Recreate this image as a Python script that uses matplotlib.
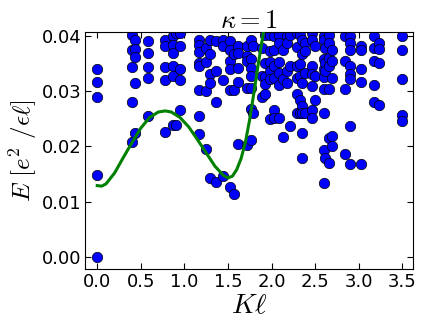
import matplotlib
matplotlib.use("Agg")
import matplotlib.pyplot as plt
import numpy as np

plt.rcParams['mathtext.fontset'] = 'cm'

# spectrum: momentum columns and the energies found at each one
k_cols = [0.0, 0.397, 0.436, 0.585, 0.776, 0.867, 0.906, 0.951, 1.169, 1.249,
          1.295, 1.357, 1.448, 1.517, 1.563, 1.616, 1.723, 1.762, 1.785, 1.888,
          1.926, 1.983, 2.029, 2.090, 2.136, 2.182, 2.212, 2.289, 2.327, 2.346,
          2.384, 2.461, 2.499, 2.595, 2.614, 2.663, 2.698, 2.843, 2.900, 3.023,
          3.179, 3.237, 3.493]
e_cols = [
    [0.0339, 0.0317, 0.0290, 0.0148, 0.0000],
    [0.0402, 0.0375, 0.0344, 0.0281, 0.0208],
    [0.0392, 0.0376, 0.0361, 0.0315, 0.0224],
    [0.0391, 0.0369, 0.0343, 0.0323, 0.0254],
    [0.0392, 0.0381, 0.0343, 0.0320, 0.0225],
    [0.0400, 0.0384, 0.0369, 0.0345, 0.0328, 0.0239],
    [0.0405, 0.0239],
    [0.0405, 0.0381, 0.0340, 0.0320, 0.0266],
    [0.0393, 0.0384, 0.0370, 0.0351, 0.0345, 0.0302, 0.0254, 0.0222],
    [0.0378, 0.0352, 0.0300, 0.0196],
    [0.0393, 0.0366, 0.0331, 0.0314, 0.0143],
    [0.0391, 0.0336, 0.0280, 0.0135],
    [0.0393, 0.0381, 0.0319, 0.0147],
    [0.0390, 0.0375, 0.0354, 0.0339, 0.0301, 0.0126],
    [0.0366, 0.0301, 0.0114],
    [0.0381, 0.0369, 0.0342, 0.0316, 0.0205],
    [0.0381, 0.0363, 0.0354, 0.0306, 0.0202],
    [0.0392, 0.0358, 0.0342, 0.0327, 0.0306, 0.0268, 0.0212],
    [0.0381, 0.0261],
    [0.0378, 0.0328, 0.0290],
    [0.0402, 0.0351, 0.0325, 0.0313, 0.0295],
    [0.0402, 0.0372, 0.0352, 0.0336, 0.0321, 0.0249],
    [0.0399, 0.0375, 0.0345, 0.0324, 0.0266, 0.0251],
    [0.0402, 0.0387, 0.0352, 0.0333, 0.0310, 0.0251],
    [0.0375, 0.0322, 0.0216],
    [0.0399, 0.0387, 0.0336, 0.0315],
    [0.0402, 0.0345, 0.0237],
    [0.0405, 0.0380, 0.0345, 0.0324, 0.0295, 0.0260],
    [0.0402, 0.0348, 0.0327, 0.0284, 0.0260],
    [0.0393, 0.0366, 0.0315, 0.0272, 0.0261, 0.0224, 0.0178],
    [0.0387, 0.0372, 0.0333, 0.0260],
    [0.0405, 0.0393, 0.0345, 0.0330, 0.0309, 0.0266, 0.0251],
    [0.0381, 0.0328, 0.0284],
    [0.0399, 0.0393, 0.0357, 0.0339, 0.0325, 0.0303, 0.0260, 0.0194, 0.0133],
    [0.0378, 0.0351, 0.0336, 0.0178],
    [0.0402, 0.0387, 0.0360, 0.0345, 0.0304, 0.0215, 0.0170],
    [0.0375, 0.0354, 0.0324, 0.0218, 0.0200],
    [0.0399, 0.0354, 0.0303, 0.0187],
    [0.0399, 0.0387, 0.0375, 0.0345, 0.0330, 0.0321, 0.0237, 0.0168],
    [0.0381, 0.0375, 0.0339, 0.0316, 0.0168],
    [0.0399, 0.0378, 0.0354, 0.0310, 0.0280],
    [0.0387, 0.0376, 0.0351, 0.0275],
    [0.0400, 0.0374, 0.0322, 0.0256, 0.0245],
]

# magnetoroton-like curve, points
k_curve = [0.00, 0.05, 0.10, 0.20, 0.30, 0.40, 0.50, 0.60, 0.70, 0.78, 0.85,
           0.95, 1.05, 1.15, 1.25, 1.35, 1.45, 1.50, 1.55, 1.60, 1.65, 1.70,
           1.75, 1.80, 1.85, 1.90, 1.93]
e_curve = [0.0129, 0.0128, 0.0132, 0.0152, 0.0180, 0.0207, 0.0233, 0.0252,
           0.0262, 0.0264, 0.0262, 0.0252, 0.0235, 0.0212, 0.0188, 0.0164,
           0.0147, 0.0143, 0.0146, 0.0158, 0.0178, 0.0208, 0.0250, 0.0300,
           0.0352, 0.0400, 0.0430]

kk = []
ee = []
for k, es in zip(k_cols, e_cols):
    for e in es:
        kk.append(k)
        ee.append(e)

fig = plt.figure(figsize=(4.36, 3.27), dpi=100)
ax = fig.add_axes([0.196, 0.177, 0.751, 0.724])

ax.plot(kk, ee, 'o', color='b', markeredgecolor='k', markeredgewidth=0.5,
        markersize=7.5, zorder=2)
ax.plot(k_curve, e_curve, '-', color=(0, 0.5, 0), lw=2.2, zorder=3)

ax.set_xlim(-0.135, 3.62)
ax.set_ylim(-0.0022, 0.0406)
ax.set_xticks(np.arange(0, 3.51, 0.5))
ax.set_yticks([0.0, 0.01, 0.02, 0.03, 0.04])
ax.set_yticklabels(['0.00', '0.01', '0.02', '0.03', '0.04'])
ax.tick_params(direction='in', top=True, right=True, labelsize=13, length=4,
               pad=3)

ax.set_xlabel(r'$K\ell$', fontsize=20, labelpad=0)
ax.set_ylabel(r'$E\ [e^2\ /\epsilon\ell]$', fontsize=18, labelpad=2)
ax.set_title(r'$\kappa=1$', fontsize=19, pad=3)

fig.savefig('out.png', dpi=100)
